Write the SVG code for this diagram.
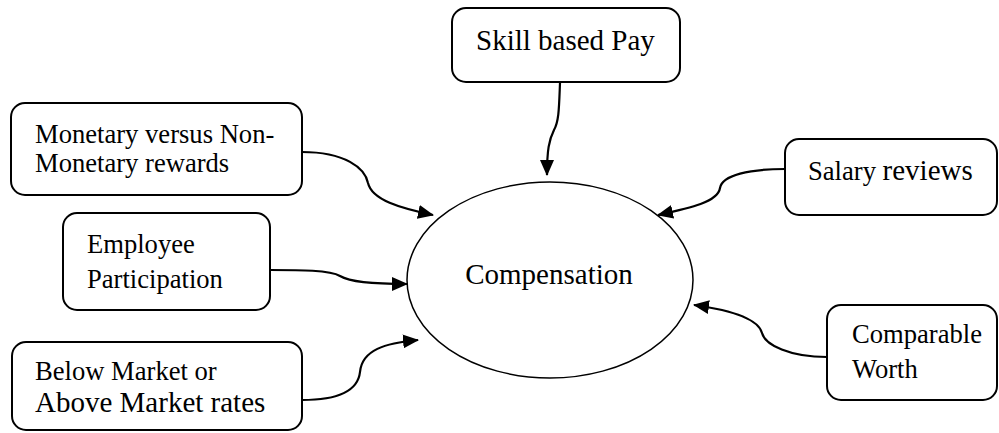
<svg xmlns="http://www.w3.org/2000/svg" width="999" height="433" viewBox="0 0 999 433">
<style>
.box{fill:#fff;stroke:#000;stroke-width:2}
.ell{fill:#fff;stroke:#000;stroke-width:1.5}
.t{font-family:"Liberation Serif","Times New Roman",serif;fill:#000;font-size:26.6px}
.L{font-size:29px}
.c{fill:none;stroke:#000;stroke-width:2.2;marker-end:url(#ah)}
</style>
<defs>
<marker id="ah" markerUnits="userSpaceOnUse" markerWidth="16" markerHeight="14" refX="15" refY="7" orient="auto" viewBox="0 0 16 14">
<path d="M0,0 L16,7 L0,14 z" fill="#000"/>
</marker>
</defs>
<g id="connectors">
<path class="c" d="M560,83 C559,108 559,121 554,130 C549,140 547,150 547,175"/>
<path class="c" d="M302,152 C345,152 365,168 368,183 C372,200 400,208 433,215"/>
<path class="c" d="M270,270 C300,270 330,270 340,276 C350,282 370,284 407,284"/>
<path class="c" d="M302,400 C340,400 358,390 360,372 C362,350 385,343 418,340"/>
<path class="c" d="M785,169 C750,169 722,175 720,188 C718,202 690,208 658,215"/>
<path class="c" d="M827,357 C790,357 765,345 762,333 C758,318 730,310 694,305"/>
</g>
<g id="compensation">
<ellipse class="ell" cx="550" cy="280" rx="143" ry="98"/>
<text class="t L" x="549" y="284" text-anchor="middle">Compensation</text>
</g>
<g id="skill">
<rect class="box" x="452" y="8" width="228" height="74" rx="14"/>
<text class="t L" x="476" y="50">Skill based Pay</text>
</g>
<g id="monetary">
<rect class="box" x="11" y="103" width="291" height="92" rx="14"/>
<text class="t" x="35" y="143">Monetary versus Non-</text>
<text class="t" x="35" y="172">Monetary rewards</text>
</g>
<g id="employee">
<rect class="box" x="63" y="213" width="207" height="97" rx="14"/>
<text class="t" x="87" y="253">Employee</text>
<text class="t" x="87" y="288">Participation</text>
</g>
<g id="market">
<rect class="box" x="12" y="342" width="290" height="88" rx="14"/>
<text class="t" x="35" y="380">Below Market or</text>
<text class="t L" x="35" y="412">Above Market rates</text>
</g>
<g id="salary">
<rect class="box" x="785" y="139" width="212" height="76" rx="14"/>
<text class="t" x="808" y="180"><tspan>Salary </tspan><tspan class="L">reviews</tspan></text>
</g>
<g id="comparable">
<rect class="box" x="827" y="305" width="170" height="95" rx="14"/>
<text class="t" x="852" y="343">Comparable</text>
<text class="t" x="852" y="378">Worth</text>
</g>
</svg>
